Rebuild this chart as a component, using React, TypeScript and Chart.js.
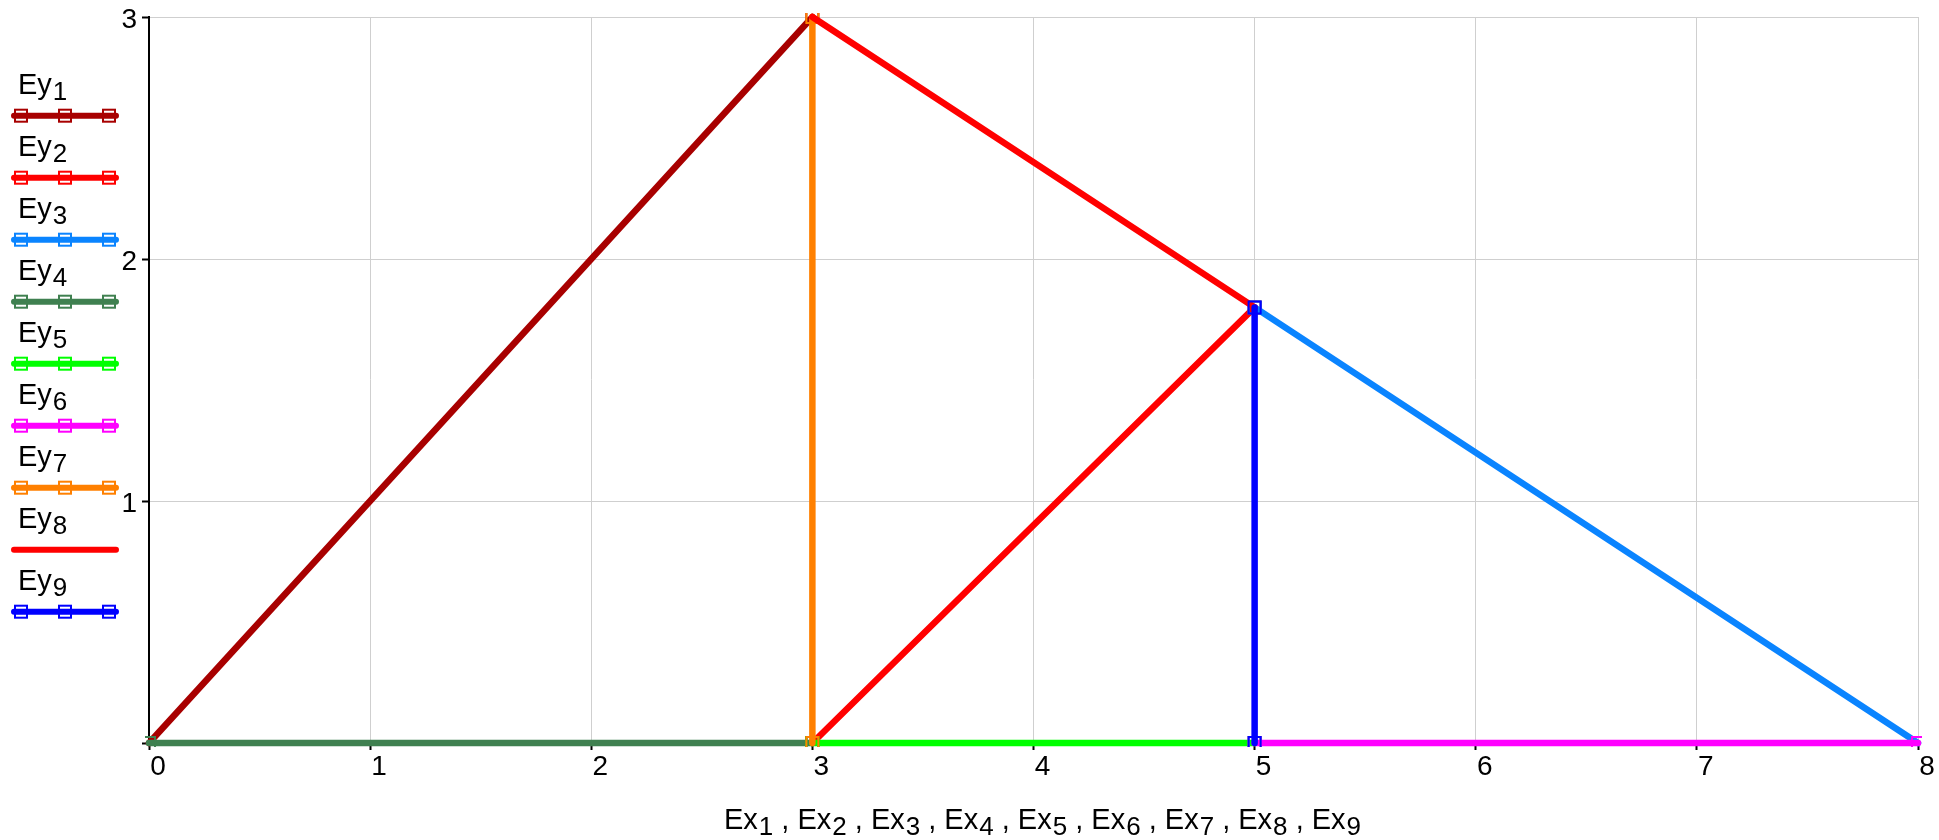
import { useEffect, useRef } from 'react';
import { Chart, registerables } from 'chart.js';

Chart.register(...registerables);

// ---- data ----
const EX1 = [0, 3]; const EY1 = [0, 3];
const EX2 = [3, 5]; const EY2 = [0, 1.8];
const EX3 = [5, 8]; const EY3 = [1.8, 0];
const EX4 = [0, 3]; const EY4 = [0, 0];
const EX5 = [3, 5]; const EY5 = [0, 0];
const EX6 = [5, 8]; const EY6 = [0, 0];
const EX7 = [3, 3]; const EY7 = [0, 3];
const EX8 = [3, 5]; const EY8 = [3, 1.8];
const EX9 = [5, 5]; const EY9 = [0, 1.8];

const SERIES_X = [EX1, EX2, EX3, EX4, EX5, EX6, EX7, EX8, EX9];
const SERIES_Y = [EY1, EY2, EY3, EY4, EY5, EY6, EY7, EY8, EY9];
const SUBSCRIPTS = ['1', '2', '3', '4', '5', '6', '7', '8', '9'];
const X_TICKS = [0, 1, 2, 3, 4, 5, 6, 7, 8];
const Y_TICKS = [0, 1, 2, 3];

// ---- style ----
const COLORS = ['#a80000', '#ff0000', '#0a84ff', '#3f8050', '#00ff00', '#ff00ff', '#ff8000', '#ff0000', '#0000ff'];
const HAS_MARKERS = [true, true, true, true, true, true, true, false, true];
const FONT = '"Liberation Sans", Arial, Helvetica, sans-serif';
const MAIN_PX = 29;
const SUB_PX = 26;

const legendPlugin = {
  id: 'customLegendAndTitle',
  afterDraw(chart: any) {
    const ctx = chart.ctx as CanvasRenderingContext2D;
    ctx.save();
    // legend
    for (let i = 0; i < SUBSCRIPTS.length; i++) {
      const baseY = 94 + 62 * i;
      const lineY = 115.7 + 62 * i;
      ctx.fillStyle = '#000';
      ctx.textBaseline = 'alphabetic';
      ctx.textAlign = 'left';
      ctx.font = `${MAIN_PX}px ${FONT}`;
      ctx.fillText('Ey', 18, baseY);
      const w = ctx.measureText('Ey').width;
      ctx.font = `${SUB_PX}px ${FONT}`;
      ctx.fillText(SUBSCRIPTS[i], 18 + w + 1, baseY + 6);

      ctx.strokeStyle = COLORS[i];
      ctx.lineWidth = 6;
      ctx.lineCap = 'round';
      ctx.beginPath();
      ctx.moveTo(14, lineY);
      ctx.lineTo(116, lineY);
      ctx.stroke();
      if (HAS_MARKERS[i]) {
        ctx.lineWidth = 2;
        for (const mx of [21, 65, 109]) {
          ctx.strokeRect(mx - 6, lineY - 6, 12, 12);
        }
      }
    }
    // x axis title with subscripts
    const area = chart.chartArea;
    const cx = (area.left + area.right) / 2 + 9;
    const baseline = 829;
    const pieces: { t: string; sub: boolean }[] = [];
    SUBSCRIPTS.forEach((s, i) => {
      pieces.push({ t: 'Ex', sub: false });
      pieces.push({ t: s, sub: true });
      if (i < SUBSCRIPTS.length - 1) pieces.push({ t: ' , ', sub: false });
    });
    let total = 0;
    const widths = pieces.map((p) => {
      ctx.font = p.sub ? `${SUB_PX}px ${FONT}` : `${MAIN_PX}px ${FONT}`;
      const wd = ctx.measureText(p.t).width + (p.sub ? 1 : 0);
      total += wd;
      return wd;
    });
    let x = cx - total / 2;
    ctx.fillStyle = '#000';
    pieces.forEach((p, i) => {
      ctx.font = p.sub ? `${SUB_PX}px ${FONT}` : `${MAIN_PX}px ${FONT}`;
      ctx.fillText(p.t, x + (p.sub ? 1 : 0), p.sub ? baseline + 6 : baseline);
      x += widths[i];
    });
    ctx.restore();
  },
};

export default function App() {
  const canvasRef = useRef<HTMLCanvasElement | null>(null);

  useEffect(() => {
    if (!canvasRef.current) return;
    const datasets = SERIES_X.map((xs, i) => ({
      label: 'Ey' + SUBSCRIPTS[i],
      data: xs.map((x, j) => ({ x, y: SERIES_Y[i][j] })),
      borderColor: COLORS[i],
      backgroundColor: COLORS[i],
      borderWidth: 6.5,
      borderCapStyle: 'round' as const,
      borderJoinStyle: 'round' as const,
      pointStyle: 'rect' as const,
      pointRadius: HAS_MARKERS[i] ? 8.5 : 0,
      pointBorderWidth: 2,
      pointBorderColor: COLORS[i],
      pointBackgroundColor: 'rgba(0,0,0,0)',
      fill: false,
      tension: 0,
      clip: 4,
      order: SERIES_X.length - i,
    }));
    const chart = new Chart(canvasRef.current, {
      type: 'line',
      data: { datasets },
      options: {
        animation: false,
        responsive: true,
        maintainAspectRatio: false,
        events: [],
        layout: { padding: { top: 17, right: 21, left: 0, bottom: 0 } },
        plugins: {
          legend: { display: false },
          tooltip: { enabled: false },
          title: { display: false },
        },
        scales: {
          x: {
            type: 'linear',
            min: X_TICKS[0],
            max: X_TICKS[X_TICKS.length - 1],
            afterBuildTicks: (s: any) => { s.ticks = X_TICKS.map((v) => ({ value: v })); },
            ticks: {
              color: '#000',
              font: { size: 28, family: FONT },
              padding: 0,
              labelOffset: 9,
              maxRotation: 0,
              autoSkip: false,
            },
            grid: { color: '#cfcfcf', lineWidth: 1, tickColor: '#000', tickLength: 7, tickWidth: 2 },
            border: { color: '#000', width: 2 },
            afterFit: (s: any) => { s.height = 97; s.paddingLeft = 0; s.paddingRight = 0; },
          },
          y: {
            type: 'linear',
            min: Y_TICKS[0],
            max: Y_TICKS[Y_TICKS.length - 1],
            afterBuildTicks: (s: any) => { s.ticks = Y_TICKS.map((v) => ({ value: v })); },
            ticks: {
              color: '#000',
              font: { size: 28, family: FONT, lineHeight: 1 },
              padding: 5,
              labelOffset: 3,
              callback: (v: any) => (v === 0 ? '' : String(v)),
            },
            grid: { color: '#cfcfcf', lineWidth: 1, tickColor: '#000', tickLength: 7, tickWidth: 2 },
            border: { color: '#000', width: 2 },
            afterFit: (s: any) => { s.width = 149; s.paddingTop = 0; s.paddingBottom = 0; },
          },
        },
      },
      plugins: [legendPlugin],
    });
    return () => chart.destroy();
  }, []);

  return (
    <div style={{ position: 'fixed', left: 0, top: 0, width: 1939, height: 840, background: '#fff' }}>
      <canvas ref={canvasRef} />
    </div>
  );
}
